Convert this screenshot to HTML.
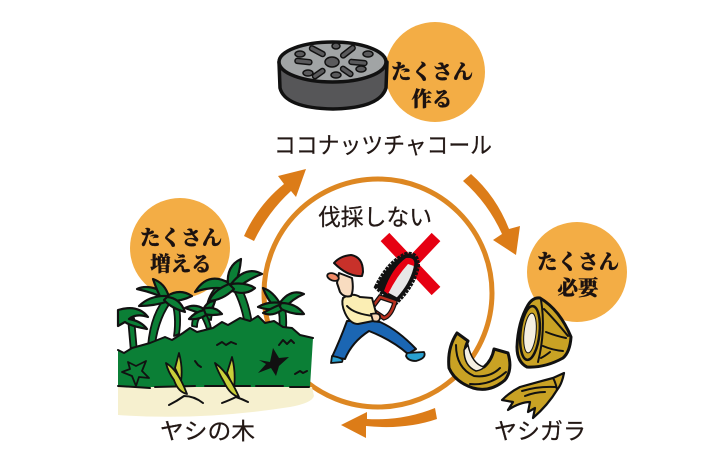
<!DOCTYPE html>
<html lang="ja">
<head>
<meta charset="utf-8">
<title>ココナッツチャコール</title>
<style>
html,body{margin:0;padding:0;background:#fff}
svg{display:block}
.tag{font-family:"Liberation Serif","Noto Serif CJK JP","Noto Serif CJK SC",serif;font-weight:900;font-size:20.500px;fill:#1c1210;text-anchor:middle;stroke:#1c1210;stroke-width:.3px}
.lab{font-family:"Liberation Sans","Noto Sans CJK JP",sans-serif;font-size:23px;fill:#231815;stroke:#231815;stroke-width:.25px}
.leaf{fill:#0b7f36;stroke:#111;stroke-width:2.200;stroke-linejoin:round}
.trunk{fill:#0b7f36;stroke:#111;stroke-width:1.800;stroke-linejoin:round}
.ln{fill:none;stroke:#111;stroke-width:2;stroke-linecap:round;stroke-linejoin:round}
</style>
</head>
<body>
<svg width="710" height="462" viewBox="0 0 710 462" xmlns="http://www.w3.org/2000/svg">
<rect width="710" height="462" fill="#fff"/>

<!-- bubbles -->
<circle cx="435" cy="72" r="50" fill="#f3ad45"/>
<circle cx="180" cy="248" r="50" fill="#f3ad45"/>
<circle cx="577" cy="272" r="50" fill="#f3ad45"/>

<!-- ring -->
<circle cx="378" cy="293" r="114" fill="none" stroke="#dd8722" stroke-width="5"/>

<!-- arrows -->
<path d="M244 236 Q258 205 284 184 L278 176 L306 169 L296 197 L291 191 Q268 212 254 241 Z" fill="#dc7c18"/>
<path d="M463 181 L471 174 Q496 196 509 229 L520 226 L516 255 L493 240 L502 234 Q488 203 463 181 Z" fill="#dc7c18"/>
<path d="M435 408 L437 419 Q405 430 366 426 L366 438 L341 425 L367 412 L367 419 Q403 421 435 408 Z" fill="#dc7c18"/>

<!-- charcoal -->
<path d="M279 62 L280 88 Q285 108 333 109 Q380 108 386 88 L387 62 Z" fill="#565658" stroke="#111" stroke-width="3.500" stroke-linejoin="round"/>
<ellipse cx="332.500" cy="62" rx="53.500" ry="20" fill="#a1a4a5" stroke="#111" stroke-width="3.500"/>
<g fill="#5a5a5c" stroke="#111" stroke-width="1.500">
<ellipse cx="332" cy="62" rx="7" ry="5"/>
<rect x="309" y="49" width="17" height="5" rx="2.500" transform="rotate(28 318 51)"/>
<rect x="339" y="49" width="17" height="5" rx="2.500" transform="rotate(-38 348 51)"/>
<rect x="295" y="59" width="17" height="5" rx="2.500" transform="rotate(6 303 61)"/>
<rect x="349" y="60" width="18" height="5" rx="2.500" transform="rotate(5 358 62)"/>
<rect x="312" y="71" width="14" height="5" rx="2.500" transform="rotate(-35 319 74)"/>
<rect x="340" y="69" width="14" height="5" rx="2.500" transform="rotate(35 347 71)"/>
<ellipse cx="300" cy="54" rx="5" ry="3"/>
<ellipse cx="336" cy="46" rx="4" ry="3"/>
<ellipse cx="368" cy="54" rx="5" ry="3"/>
<ellipse cx="361" cy="69" rx="5" ry="3"/>
<ellipse cx="308" cy="73" rx="5" ry="3"/>
<ellipse cx="336" cy="75" rx="5" ry="3"/>
</g>

<!-- island -->
<path d="M118 415 L118 387 L312 387 L314 396 Q312 403 290 407 Q200 421 118 415 Z" fill="#f6f0cf"/>

<!-- trunks behind grass -->
<path class="trunk" d="M128 318 L131 352 L137 352 L134 318 Z"/>
<path class="trunk" d="M148 346 Q151 312 167 296 L173 299 Q159 316 155 344 Z"/>
<path class="trunk" d="M171 298 Q177 316 174 336 L179 334 Q182 316 177 296 Z"/>
<path class="trunk" d="M229 282 Q241 300 245 325 L252 324 Q248 296 236 280 Z"/>
<path class="trunk" d="M228 286 Q214 291 211 320 L205 318 Q207 288 226 281 Z"/>
<path class="trunk" d="M192 326 Q192 313 203 309 Q209 318 211 328 L207 329 Q204 320 201 316 Q197 320 197 327 Z"/>
<path class="trunk" d="M277 305 Q281 316 279 330 L286 330 Q287 315 284 303 Z"/>

<path d="M118 350 L124 353 L132 348 L150 343 L165 337 L172 340 L183 333 L190 328 L197 332 L213 328 L222 322 L228 325 L240 318 L250 321 L258 316 L265 323 L274 321 L283 327 L292 328 L300 335 L313 338 L310 387 L118 387 Z" fill="#0b7f36"/>
<path class="ln" d="M118 350 L124 353 L132 348 L150 343 L165 337 L172 340 L183 333 L190 328 L197 332 L213 328 L222 322 L228 325 L240 318 L250 321 L258 316 L265 323 L274 321 L283 327 L292 328 L300 335 L313 338" stroke-width="1.500"/>
<path d="M118 386 L135 387 L150 388 M155 387 L195 386 M205 386 L250 386 M256 386 L283 386 M290 387 L309 387" class="ln" stroke-width="2.500"/>

<!-- palm fronds -->
<path class="leaf" d="M118 310 Q138 304 148 317 Q136 313 129 319 Q141 321 147 329 Q130 326 125 322 L118 326 Z"/>
<path class="leaf" d="M168 295 Q150 283 137 289 Q155 293 168 300 Z"/>
<path class="leaf" d="M169 297 Q165 283 153 279 Q157 291 162 300 Z"/>
<path class="leaf" d="M167 296 Q180 288 192 296 Q180 302 167 301 Z"/>
<path class="leaf" d="M168 296 Q150 295 139 306 Q155 306 169 301 Z"/>
<path class="leaf" d="M167 297 Q180 298 185 312 Q171 308 164 300 Z"/>
<path class="leaf" d="M229 283 Q208 271 195 292 Q210 286 229 289 Z"/>
<path class="leaf" d="M228 285 Q226 266 241 259 Q240 272 235 285 Z"/>
<path class="leaf" d="M231 284 Q246 265 262 274 Q248 279 236 289 Z"/>
<path class="leaf" d="M231 284 Q246 282 255 288 Q246 296 232 291 Z"/>
<path class="leaf" d="M229 284 Q214 290 209 301 Q223 300 234 289 Z"/>
<path class="leaf" d="M204 309 Q195 303 185 308 Q196 312 203 314 Z"/>
<path class="leaf" d="M203 310 Q207 301 215 301 Q213 309 207 313 Z"/>
<path class="leaf" d="M203 309 Q214 305 222 314 Q212 316 204 314 Z"/>
<path class="leaf" d="M204 310 Q195 312 189 319 Q199 320 206 315 Z"/>
<path class="leaf" d="M281 305 Q273 291 263 288 Q267 299 275 308 Z"/>
<path class="leaf" d="M279 304 Q290 288 304 294 Q292 299 285 308 Z"/>
<path class="leaf" d="M281 303 Q296 303 304 314 Q292 315 279 308 Z"/>
<path class="leaf" d="M281 303 Q268 301 258 307 Q270 311 279 308 Z"/>
<path class="leaf" d="M279 305 Q270 309 263 313 Q272 317 282 310 Z"/>

<!-- ground plants -->
<path d="M128 362 L136 366 L146 361 L142 371 L149 378 L139 377 L136 386 L132 376 L122 372 L130 369 Z" fill="none" stroke="#111" stroke-width="1.800" stroke-linejoin="round"/>
<path d="M259 360 L270 362 L273 348 L279 358 L289 357 L279 366 L276 376 L271 368 L258 373 L266 364 Z" fill="#111"/>
<path class="ln" d="M217 345 L222 342 L226 345 L231 342 L236 344" stroke-width="1.500"/>
<path class="ln" d="M279 345 L283 340 L287 344 L291 340 L294 343" stroke-width="1.500"/>
<path class="ln" d="M295 374 L300 371 L303 373 L307 371" stroke-width="1.500"/>
<path class="ln" d="M195 361 L198 365 L201 367" stroke-width="2"/>

<!-- sprouts -->
<g stroke="#111" stroke-width="1.800" stroke-linejoin="round">
<path d="M179 353 Q183 368 181 381 L175 368 Z" fill="#c9cf3a"/>
<path d="M166 363 Q178 370 187 394 Q178 392 174 380 Q168 372 166 363 Z" fill="#c9cf3a"/>
<path d="M232 357 Q236 372 234 388 L227 373 Z" fill="#c9cf3a"/>
<path d="M215 363 Q228 372 239 397 Q230 395 224 382 Q218 372 215 363 Z" fill="#c9cf3a"/>
</g>
<path class="ln" d="M169 405 Q177 401 184 396 Q194 396 203 403"/>
<path class="ln" d="M222 403 Q230 400 236 397 Q242 399 248 402"/>

<!-- X -->
<path d="M385 237 L436 291 M436 237 L385 291" stroke="#e60012" stroke-width="12" fill="none"/>

<!-- chainsaw -->
<path d="M376 287 Q388 262 406 254 Q418 252 418 266 Q414 285 398 301 L394 305 Z" fill="#111" stroke="#111" stroke-width="4" stroke-dasharray="3 1"/>
<path d="M384 291 Q392 268 406 258 Q416 257 414 268 Q410 284 397 298 Z" fill="#e7e7e7" stroke="#111" stroke-width="1"/>
<path d="M384 291 Q392 268 406 258 Q416 257 414 266 L408 264 Q397 276 388 294 Z" fill="#e60012"/>
<path d="M380 297 L371 309 L384 318 Q391 316 395 302 Z" fill="#fff" stroke="#111" stroke-width="5"/>
<path d="M380 297 L371 309 L384 318 Q391 316 395 302 Z" fill="none" stroke="#b8301f" stroke-width="2.500"/>

<!-- man -->
<path d="M347 321 Q340 340 332 357 L345 359 Q352 342 369 331 Q392 340 408 354 L416 349 Q398 330 380 322 L372 321 Z" fill="#1b66b3" stroke="#111" stroke-width="2" stroke-linejoin="round"/>
<path d="M332 356 Q345 358 342 362 L331 363 Z" fill="#29a0d0" stroke="#111" stroke-width="1.800" stroke-linejoin="round"/>
<path d="M407 353 L424 352 Q427 358 416 361 Q408 361 406 356 Z" fill="#29a0d0" stroke="#111" stroke-width="1.800" stroke-linejoin="round"/>
<path d="M343 298 Q352 292 360 297 L372 298 L378 320 L358 324 Q350 324 345 313 Q341 304 343 298 Z" fill="#fbeeb4" stroke="#111" stroke-width="2" stroke-linejoin="round"/>
<path d="M347 306 Q354 314 374 316" class="ln" stroke-width="1.500"/>
<path d="M371 314 Q381 312 380 318 Q379 323 373 321 Z" fill="#f8d7b5" stroke="#111" stroke-width="1.800"/>
<path d="M339 273 L352 278 Q354 290 351 296 Q344 298 340 292 L337 283 Z" fill="#f8dcc0" stroke="#111" stroke-width="2" stroke-linejoin="round"/>
<ellipse cx="333" cy="277" rx="6" ry="3.500" fill="#ef8a67" stroke="#111" stroke-width="1.800" transform="rotate(20 333 277)"/>
<path d="M334 263 Q340 256 351 255 Q363 257 363 272 L362 276 Q348 277 334 263 Z" fill="#c8312a" stroke="#111" stroke-width="2" stroke-linejoin="round"/>

<!-- coconut right -->
<path d="M540 298 Q560 310 571 337 Q570 352 563 358 Q545 368 527 367 Q517 362 517 347 Q518 322 528 305 Q533 297 540 298 Z" fill="#c9a224" stroke="#111" stroke-width="3" stroke-linejoin="round"/>
<ellipse cx="530" cy="333" rx="9.500" ry="27" fill="#c9a224" stroke="#111" stroke-width="2.500" transform="rotate(6 530 333)"/>
<ellipse cx="530" cy="333" rx="6" ry="20" fill="#f5efe2" stroke="#111" stroke-width="1" transform="rotate(6 530 333)"/>
<path class="ln" d="M544 309 Q555 320 568 336 M546 332 Q556 336 566 338 M543 346 Q552 350 563 351 M541 358 Q545 356 550 352 M541 300 Q546 330 538 362" stroke-width="1.800"/>

<!-- coconut left -->
<path d="M457 333 L468 341 Q462 352 468 362 Q474 370 484 367 Q492 360 494 349 L508 353 Q513 370 505 380 Q490 393 473 388 Q455 382 449 368 Q447 348 457 333 Z" fill="#c9a224" stroke="#111" stroke-width="3" stroke-linejoin="round"/>
<path d="M464 350 Q464 366 476 371 Q482 370 484 367 Q472 364 468 345 Z" fill="#f5efe2" stroke="#111" stroke-width="1.500"/>
<path class="ln" d="M456 345 Q456 368 474 376 Q490 378 500 368 M470 384 Q490 386 506 372" stroke-width="1.800"/>

<!-- husk -->
<path d="M564 373 Q562 384 557 390 Q548 405 533 418 L535 408 L528 412 L530 402 Q520 402 508 410 L513 402 L502 400 Q510 392 520 387 Q538 382 553 378 Z" fill="#c9a224" stroke="#111" stroke-width="2.200" stroke-linejoin="round"/>
<path class="ln" d="M522 391 Q538 386 556 387 M525 396 Q535 392 545 392 M553 378 Q556 383 557 390" stroke-width="1.300"/>

<!-- bubble text -->
<text class="tag" x="432" y="79">たくさん</text>
<text class="tag" x="432" y="106">作る</text>
<text class="tag" x="181" y="245">たくさん</text>
<text class="tag" x="181" y="271">増える</text>
<text class="tag" x="578" y="269">たくさん</text>
<text class="tag" x="578" y="295">必要</text>

<!-- labels -->
<text class="lab" x="274" y="153" textLength="218" lengthAdjust="spacingAndGlyphs">ココナッツチャコール</text>
<text class="lab" x="318" y="225" textLength="114" lengthAdjust="spacingAndGlyphs">伐採しない</text>
<text class="lab" x="160" y="439" textLength="95" lengthAdjust="spacingAndGlyphs">ヤシの木</text>
<text class="lab" x="494" y="439" textLength="92" lengthAdjust="spacingAndGlyphs">ヤシガラ</text>
</svg>
</body>
</html>
